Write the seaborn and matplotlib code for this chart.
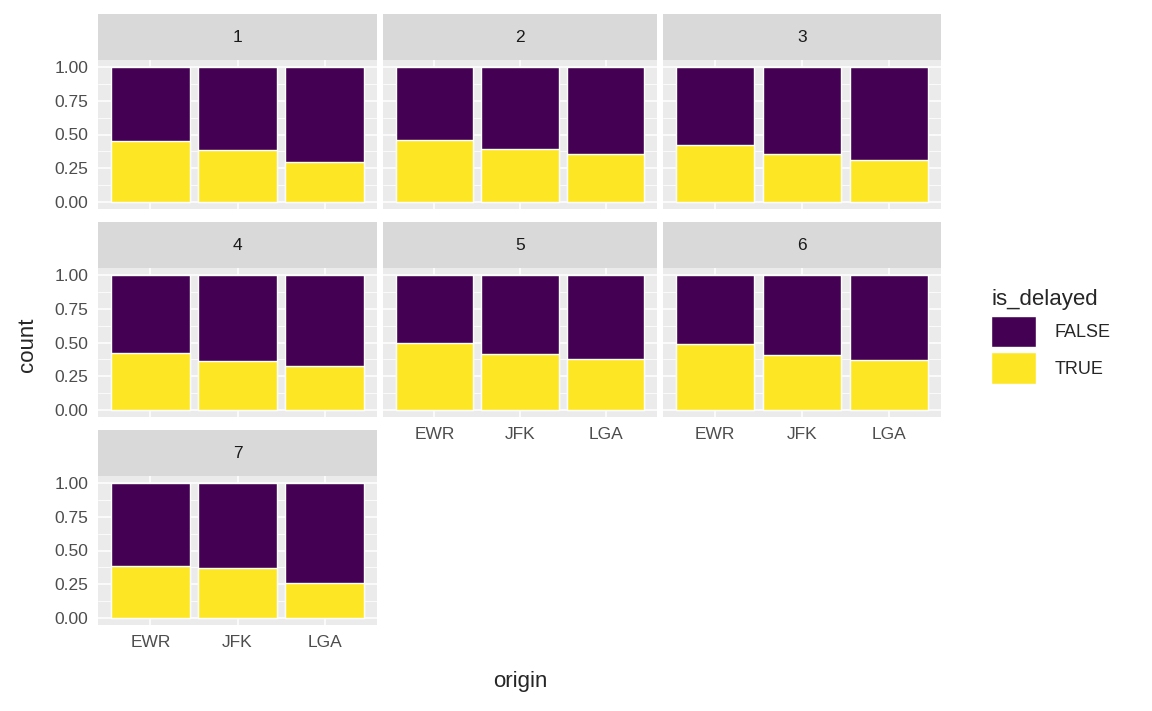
import matplotlib
matplotlib.use("Agg")
import matplotlib.pyplot as plt
from matplotlib.patches import Patch
import seaborn as sns
import pandas as pd

origins = ["EWR", "JFK", "LGA"]
days = [1, 2, 3, 4, 5, 6, 7]
# share of delayed flights (TRUE) per day and origin
true_share = {
    1: [0.45, 0.385, 0.30],
    2: [0.46, 0.39, 0.355],
    3: [0.42, 0.355, 0.31],
    4: [0.42, 0.365, 0.325],
    5: [0.495, 0.415, 0.38],
    6: [0.49, 0.41, 0.37],
    7: [0.385, 0.37, 0.26],
}

PURPLE = "#440154"
YELLOW = "#FDE725"
W, H = 1152, 711

sns.set_style("white")
plt.rcParams['font.family'] = ['Liberation Sans', 'DejaVu Sans']

fig = plt.figure(figsize=(W / 100, H / 100), dpi=100)

col_x = [(98, 377), (383, 657), (663, 941)]
row_y = [(14, 60, 209), (222, 268, 417), (430, 476, 625)]

def px_box(x0, x1, y0, y1):
    return [x0 / W, 1 - y1 / H, (x1 - x0) / W, (y1 - y0) / H]

for i, d in enumerate(days):
    r, c = divmod(i, 3)
    x0, x1 = col_x[c]
    s0, p0, p1 = row_y[r]
    ax = fig.add_axes(px_box(x0, x1, p0, p1))
    df = pd.DataFrame({"origin": origins, "total": [1.0] * 3, "true": true_share[d]})
    sns.barplot(data=df, x="origin", y="total", color=PURPLE, width=0.9,
                saturation=1, ax=ax, zorder=3)
    sns.barplot(data=df, x="origin", y="true", color=YELLOW, width=0.9,
                saturation=1, ax=ax, zorder=4)
    ax.set_facecolor("#EBEBEB")
    ax.set_xlim(-0.6, 2.6)
    ax.set_ylim(-0.05, 1.05)
    ax.set_yticks([0, 0.25, 0.5, 0.75, 1.0])
    ax.set_yticks([0.125, 0.375, 0.625, 0.875], minor=True)
    ax.grid(True, which="major", color="white", lw=1.1, zorder=0)
    ax.grid(True, which="minor", axis="y", color="white", lw=0.55, zorder=0)
    ax.set_axisbelow(True)
    for sp in ax.spines.values():
        sp.set_visible(False)
    ax.set_xlabel("")
    ax.set_ylabel("")
    ax.tick_params(axis="both", which="major", length=3.5, color="#333333",
                   labelcolor="#4D4D4D", labelsize=12.5, width=0.9, direction="out")
    ax.tick_params(axis="y", which="minor", length=0)
    if c == 0:
        ax.set_yticklabels(["0.00", "0.25", "0.50", "0.75", "1.00"])
    else:
        ax.tick_params(axis="y", which="major", labelleft=False, length=0)
    # x labels only on bottom panel of each column
    if not (r == 2 or (r == 1 and c > 0)):
        ax.tick_params(axis="x", labelbottom=False, length=0)
    # strip
    sax = fig.add_axes(px_box(x0, x1, s0, p0))
    sax.set_facecolor("#D9D9D9")
    sax.set_xticks([]); sax.set_yticks([])
    for sp in sax.spines.values():
        sp.set_visible(False)
    sax.text(0.5, 0.5, str(d), ha="center", va="center", fontsize=12.5, color="#1A1A1A")

fig.text(520 / W, 1 - 681 / H, "origin", ha="center", va="center", fontsize=16)
fig.text(27 / W, 1 - 345 / H, "count", ha="center", va="center", fontsize=16, rotation=90)

handles = [Patch(facecolor=PURPLE, label="FALSE"), Patch(facecolor=YELLOW, label="TRUE")]
leg = fig.legend(handles=handles, title="is_delayed", loc="upper left",
                 bbox_to_anchor=(975 / W, 1 - 273 / H), frameon=False, fontsize=13,
                 title_fontsize=16, handlelength=2.5, handleheight=2.3,
                 labelspacing=0.3, handletextpad=1.0)
leg._legend_box.align = "left"

fig.savefig("out.png", dpi=100)
